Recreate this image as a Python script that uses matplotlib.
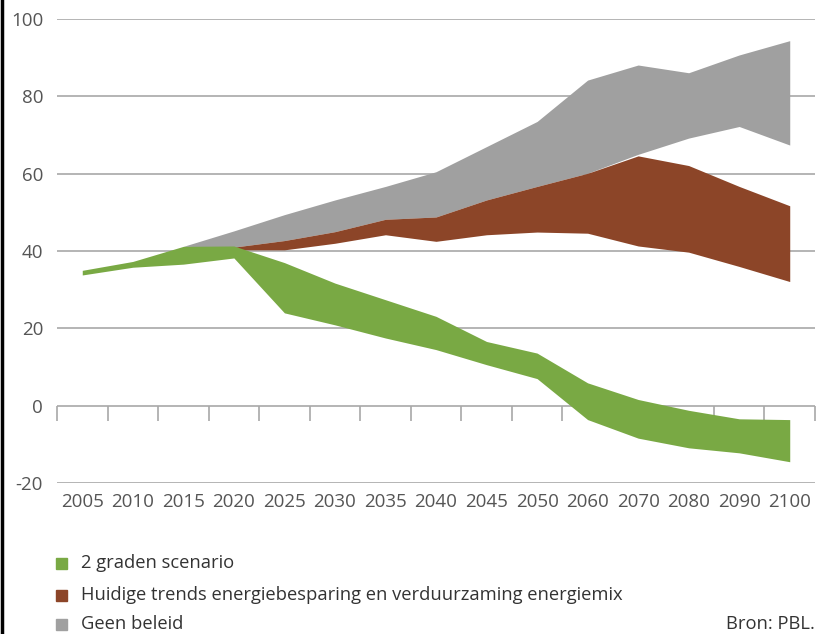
import numpy as np
import matplotlib
matplotlib.use("Agg")
import matplotlib.pyplot as plt
from matplotlib.patches import Rectangle
from matplotlib.lines import Line2D

nan = np.nan

years = ["2005", "2010", "2015", "2020", "2025", "2030", "2035", "2040",
         "2045", "2050", "2060", "2070", "2080", "2090", "2100"]

# 2 graden scenario (band)
green_low = [33.8, 35.8, 36.6, 38.2, 24.0, 20.9, 17.5, 14.5, 10.6, 7.0,
             -3.6, -8.4, -10.9, -12.2, -14.5]
green_high = [35.0, 37.3, 41.2, 41.3, 37.0, 31.7, 27.4, 23.1, 16.6, 13.6,
              5.9, 1.6, -1.2, -3.4, -3.6]

# Huidige trends energiebesparing en verduurzaming energiemix (band)
red_low = [nan, nan, nan, 40.3, 40.3, 42.0, 44.2, 42.5, 44.2, 44.9,
           44.6, 41.3, 39.7, 36.0, 32.1]
red_high = [nan, nan, nan, 41.0, 42.7, 45.0, 48.2, 48.8, 53.2, 56.7,
            60.1, 64.6, 62.1, 56.7, 51.7]

# Geen beleid (band, lower edge hidden behind the brown band until 2070)
grey_low = [nan, nan, 41.2, 41.0, 42.7, 45.0, 48.2, 48.8, 53.2, 56.7,
            60.1, 65.0, 69.2, 72.2, 67.4]
grey_high = [nan, nan, 41.2, 45.2, 49.4, 53.2, 56.7, 60.5, 67.0, 73.5,
             84.2, 88.1, 86.1, 90.7, 94.4]

labels = ["2 graden scenario",
          "Huidige trends energiebesparing en verduurzaming energiemix",
          "Geen beleid"]

GREEN = "#79a944"
BROWN = "#8c4528"
GREY = "#a0a0a0"
TXT = "#555555"

plt.rcParams["font.family"] = ["Open Sans", "DejaVu Sans"]
plt.rcParams["axes.unicode_minus"] = False

W, H = 816, 634
fig = plt.figure(figsize=(W / 100, H / 100), dpi=100)
ax = fig.add_axes([57 / W, 1 - 483 / H, 758 / W, 464 / H])

x = np.arange(len(years))
ax.fill_between(x, grey_low, grey_high, color=GREY, lw=0, zorder=3)
ax.fill_between(x, red_low, red_high, color=BROWN, lw=0, zorder=4)
ax.fill_between(x, green_low, green_high, color=GREEN, lw=0, zorder=5)

ax.set_xlim(-0.5, len(years) - 0.5)
ax.set_ylim(-20, 100)
ax.set_yticks(np.arange(-20, 101, 20))
ax.yaxis.grid(True, color="#a8a8a8", lw=1.2, zorder=0)
ax.set_axisbelow(True)

# category boundary ticks hanging from the zero line
bounds = np.arange(len(years) + 1) - 0.5
ax.vlines(bounds, -3.9, 0, color="#a8a8a8", lw=1.2, zorder=1, clip_on=False)

ax.set_xticks(x, labels=years)
ax.tick_params(axis="x", length=0, pad=7, labelsize=13.5, labelcolor=TXT)
ax.tick_params(axis="y", length=0, pad=10, labelsize=13.5, labelcolor=TXT)
for s in ax.spines.values():
    s.set_visible(False)

# legend below the plot
row_y = [563, 595, 624]
for lab, col, yy in zip(labels, [GREEN, BROWN, GREY], row_y):
    fig.add_artist(Rectangle((56 / W, 1 - (yy + 5.5) / H), 11 / W, 11 / H,
                             color=col, transform=fig.transFigure))
    fig.text(81 / W, 1 - yy / H, lab, ha="left", va="center",
             fontsize=13.2, color="#333333")

fig.text(815 / W, 1 - 624 / H, "Bron: PBL.", ha="right", va="center",
         fontsize=13.2, color="#333333")

# black rule along the left edge
fig.add_artist(Line2D([0.002, 0.002], [0, 1], color="black", lw=2.5,
                      transform=fig.transFigure))

fig.savefig("out.png", dpi=100)
